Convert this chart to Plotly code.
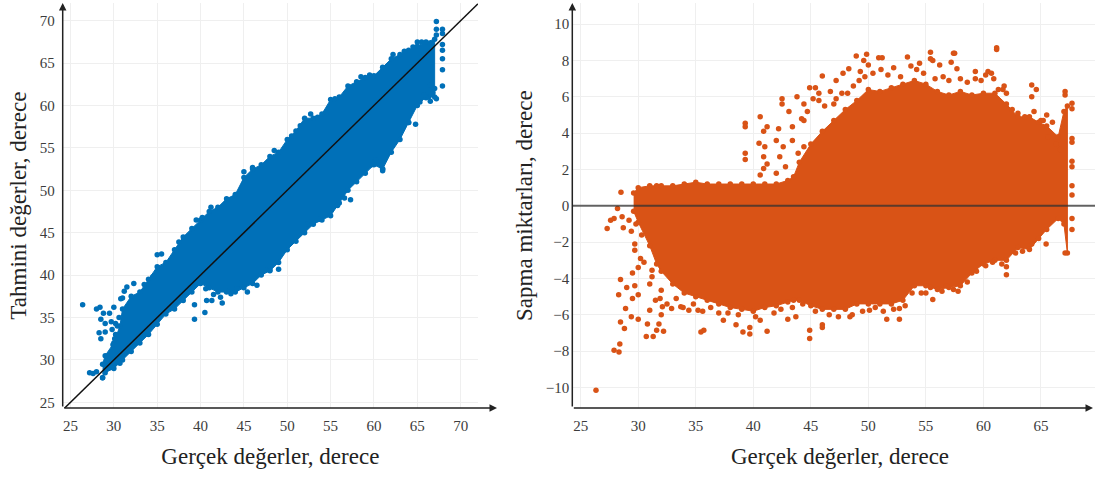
import plotly.graph_objects as go

band_x = [28.7,29,30,30.7,31,32,33,34,35,36,37,38,39,40,41,42,43,44,45,46,47,48,49,50,51,52,53,54,55,56,57,58,59,60,61,62,63,64,65,66,67]
band_low = [27.9,28.5,29,29.6,30,31,32,33,34.2,35.4,36,37,38,39,38.5,38,38,38,38.5,39,40,40.5,41.5,43,44,45,46,46.5,47,48.5,50,51,52,53,52.5,54.5,56,58,60,61,61]
band_up = [29.5,30.5,32,34,36,37.5,38,39.5,41,41.5,43,44.5,45.5,46.5,47.5,48,49,49.5,51.5,52.5,53,54,54.5,56,57,58.5,58.5,59,60.7,61,62.3,62.8,63.3,63.5,64.5,65.5,66,66.5,67,67.5,67.8]
left_out_x = [26.4,28,28.4,28.8,29.5,30,28.5,29,28.3,28.5,29,29.7,30.2,27.2,27.6,28,28.7,39.3,39.3,40.5,40.7,41.3,42.5,43.5,49,48,35.5,35,32.3,31.5,46,45,41.2,48.5,52.7,61,61,57.3,65,67.2,67.2,67.2,67.9,67.9,67.9,67.9,67.9,67.9,67.9,67.2,66.3,62.2,64.8,64,39.5,40.2,44.5,47.5,58.5,59.5,53.5,50.5,51.5,54.5,55.5,37.5,33.5,34.5,29.8,30.2,30.4,30.6,30.1,29.9,31,31.2,30.8,40.6,41.5,42.3,43.1,44.2,45.4,46.5,63.5,64.5,65.5,66.5,67,66.8,66.5,66,65.8,65.3,60.2,59.7,56.6,55.8,52.3,53.7]
left_out_y = [36.5,36,36.2,35.5,35.5,36.2,34.8,34.3,33.2,32.5,33.3,34.5,34.3,28.5,28.4,28.6,27.9,34.8,36.5,35.6,37,37,36.7,37.8,40.7,40.6,42.5,42.4,39,38.6,52.7,52.2,48,54.7,59,52.5,52.3,48.9,67.5,69.9,69,68.3,69,68.5,67.2,66.5,65.5,64.2,62.3,60.8,61,66,57.8,58,46.5,46.8,39,40.6,63.4,63.6,58.6,56.4,57.6,59.2,60.8,43.9,38.9,39.8,33.6,33,34,35,32.5,31.8,37.3,38.1,37.2,38.4,37.7,37.4,38.1,38.4,38,38.8,66.4,66.9,67.5,62.4,62,61.5,60.5,60.9,61.2,60.4,53.6,53,49.1,48.2,46,46.6]
diag = [24.3,72]

dev_x = [29.6,30,31,31.6,32,33,34,35,36,37,38,39,40,41,42,43,43.5,44,45,46,47,48,49,50,51,52,53,54,55,56,57,58,59,60,61,62,63,64,64.8,65.5,66.5,67,67.3]
dev_up = [0.7,1.0,1.1,1.1,1.1,1.1,1.2,1.3,1.2,1.2,1.2,1.2,1.2,1.2,1.2,1.4,1.6,2.4,3.4,4.1,4.7,5.3,5.8,6.4,6.3,6.5,6.7,6.9,6.7,6.3,6.1,6.3,6.1,6.2,6.2,5.6,4.9,4.9,4.6,4.4,3.8,5.2,5.5]
dev_low = [-0.3,-0.9,-2.2,-3.2,-3.6,-4.3,-4.8,-5,-5.2,-5.4,-5.6,-5.7,-5.8,-5.6,-5.5,-5.3,-5.2,-5.2,-5.5,-5.7,-5.7,-5.7,-5.4,-5.4,-5.4,-5.4,-5.2,-4.4,-4.4,-4.6,-4.5,-4.4,-3.7,-3.2,-3,-3,-2.3,-2.4,-1.8,-1.3,-0.7,-1,-2.6]
dev_out_x = [26.33,27.9,28.33,28.4,28.8,28.46,28.9,28.3,28.46,29.4,30,29,29.5,29.7,30,30,29.5,30.2,29.7,29.7,27.3,27.6,27.9,28.2,28.5,28.6,28.7,29.4,29.2,29.8,30.3,30.7,31.3,31.6,32.2,30.8,31,31.8,32,32.1,31.5,32,31,31.2,32.9,33.7,34.4,35.2,35.45,35.7,37.4,38.5,39.1,39.7,39.7,40.6,41.2,44.9,44.9,46,46,43,43.7,48.4,50.1,51.6,52.7,52.7,55.6,55,57.8,62,62,65.45,67.1,67.7,67.7,67.7,67.7,67.7,67.7,67.7,67.7,67.7,67.7,67.1,67.1,65.5,64.6,64.2,64.2,62,61.7,61.15,61.15,59.3,59.3,60.4,60.9,57.4,57.5,57.2,57.7,56.2,55.4,55.4,55.6,54.45,53.4,51.2,50.9,49.85,48.95,49.6,50,48.3,47.8,49.3,46,47.2,44.9,45.4,42.5,42.5,43.8,43.1,39.3,39.3,40.6,39.3,39.3,41.2,40.9,42.2,40.5,41,40.9,41.2,40.9,40.6,42,42.6,42.3,42.8,42,43.4,43.4,44.4,44.4,43.9,44.4,45.7,47,
             44.2,44.7,45.2,45.7,46.2,46.7,47.2,47.7,48.2,48.7,49.2,49.7,50.4,51.1,51.7,52.2,52.8,53.7,54.2,54.8,55.8,56.5,57,58,58.6,59.8,60.2,60.7,61.3,61.8,62.5,63,63.6,64.4,65,66,66.3,66.7,65.6,65.2,
             30.5,31.2,31.9,32.5,33.3,33.9,34.8,35.6,36.3,37,37.8,38.7,40.2,41.8,42.4,43.4,44.3,45.4,46.6,47.4,48.6,49.5,50.6,51.3,52.2,53.2,53.8,54.6,55.4,56.4,56.8,57.4,58.6,59.4,60.2,60.8,61.6,62.8,63.4,64.2]
dev_out_y = [-10.15,-7.95,-8.05,-7.6,-6.75,-6.4,-5.65,-4.9,-4.05,-6.1,-6.25,-4.5,-5.1,-4.4,-4.9,-3.4,-3.7,-2.9,-2.45,-2.1,-1.25,-0.8,-0.7,-0.15,0.75,-0.6,-1.2,-1.4,-0.8,-1,-1.6,-7.2,-7.2,-6.85,-6.9,-6.5,-5.75,-6.5,-6,-5.55,-5.2,-4.65,-4.3,-3.55,-5.65,-5.55,-5.75,-5.75,-6.95,-6.85,-6.3,-6.55,-6.95,-7.05,-6.7,-6.3,-6.9,-6.85,-7.3,-6.55,-6.7,-6.25,-6.1,-6.1,-5.75,-6.25,-6.25,-5.65,-5.15,-4.8,-4.7,-3.8,-3.35,-2.1,-2.6,-1.3,-0.7,0.6,1.1,2.15,2.45,3.5,3.7,5.35,5.65,6.1,6.3,5,6.4,6.65,6,6.2,6.4,8.6,8.7,7.4,7,7.4,7,8.4,8.4,7.9,7.55,7.75,8.45,8.1,8,7.85,8.2,8.15,8.15,8.35,8.25,8,7.75,7.55,7.3,7.4,7.15,6.9,6.5,6.5,5.9,5.6,6,5.2,4.55,4.35,4.9,2.9,2.55,4.35,4.1,4.25,3.45,3.25,2.7,2.3,2.05,1.7,3.6,3.25,2.7,2.15,1.8,4.35,3.6,4.7,5.6,2.9,3.25,5.8,5.6,
             4.8,5.2,5.9,6.2,5.5,6.3,5.9,6.2,6.2,6.6,6.9,7.1,7.3,7.5,7.2,7.6,7.1,7.7,7.5,7.3,7,7.1,6.9,7,6.8,6.9,7.2,7.3,6.4,6.6,5.3,5.1,4.9,5.2,4.7,4.6,3.4,3.1,3.8,4.7,
             -3.1,-3.9,-5.1,-5.4,-5.1,-5.6,-5.4,-5.8,-5.6,-5.9,-5.9,-6,-6.1,-5.9,-5.7,-5.6,-5.4,-5.8,-6,-6.1,-6,-5.8,-5.6,-5.8,-5.7,-5.5,-4.8,-4.8,-4.5,-4.7,-4.4,-4.6,-4.2,-3.6,-3.3,-3.1,-3.2,-2.6,-2.5,-2.1]
zero_x = [24.27,69.7]
zero_y = [0,0]

x_ticks_left = [25,30,35,40,45,50,55,60,65,70]
y_ticks_left = [25,30,35,40,45,50,55,60,65,70]
x_ticks_right = [25,30,35,40,45,50,55,60,65]
y_ticks_right = [-10,-8,-6,-4,-2,0,2,4,6,8,10]

BLUE, ORANGE = "#0070B8", "#D95316"
W, H = 1095, 477
FONT = "Liberation Serif"

def px(v): return v / W
def py(v): return 1 - v / H

fig = go.Figure()

def panel(xa, ya, bx, low, up, ox, oy, colour):
    fig.add_trace(go.Scatter(x=bx + bx[::-1], y=up + low[::-1], mode="lines", fill="toself",
                             fillcolor=colour, line=dict(color=colour, width=1),
                             xaxis=xa, yaxis=ya, showlegend=False, hoverinfo="skip"))
    fig.add_trace(go.Scatter(x=bx + bx + ox, y=up + low + oy, mode="markers",
                             marker=dict(color=colour, size=5.5),
                             xaxis=xa, yaxis=ya, showlegend=False))

panel("x", "y", band_x, band_low, band_up, left_out_x, left_out_y, BLUE)
fig.add_trace(go.Scatter(x=diag, y=diag, mode="lines", line=dict(color="#111111", width=1.5),
                         xaxis="x", yaxis="y", showlegend=False))
panel("x2", "y2", dev_x, dev_low, dev_up, dev_out_x, dev_out_y, ORANGE)
fig.add_trace(go.Scatter(x=zero_x, y=zero_y, mode="lines", line=dict(color="rgba(50,50,50,0.75)", width=2),
                         xaxis="x2", yaxis="y2", showlegend=False))

tick = dict(family=FONT, size=15, color="#3c3c3c")
title = dict(family=FONT, size=23, color="#222222")
grid = "#efefef"
common = dict(showgrid=True, gridcolor=grid, gridwidth=1.2, zeroline=False, showline=False,
              ticks="", tickfont=tick, automargin=False)

fig.update_layout(
    width=W, height=H, margin=dict(l=0, r=0, t=0, b=0), paper_bgcolor="white", plot_bgcolor="white",
    showlegend=False,
    xaxis=dict(common, domain=[px(62.7), px(478)], range=[24.1, 72], tickvals=x_ticks_left, ticklabelstandoff=7,
               title=dict(text="Gerçek değerler, derece", font=title, standoff=14), anchor="y"),
    yaxis=dict(common, domain=[py(408), py(3.3)], range=[24.33, 72.05], tickvals=y_ticks_left, ticklabelstandoff=7,
               title=dict(text="Tahmini değerler, derece", font=title, standoff=6), anchor="x"),
    xaxis2=dict(common, domain=[px(572.3), px(1095)], range=[24.27, 69.7], tickvals=x_ticks_right, ticklabelstandoff=7, anchor="y2"),
    yaxis2=dict(common, domain=[py(408), py(3.3)], range=[-11.13, 11.15], tickvals=y_ticks_right, ticklabelstandoff=2,
                title=dict(text="Sapma miktarları, derece", font=title, standoff=6), anchor="x2"),
)

def arrow(x0, y0, x1, y1):
    fig.add_annotation(xref="paper", yref="paper", axref="pixel", ayref="pixel",
                       x=px(x1), y=py(y1), ax=x0 - x1, ay=y0 - y1, text="", showarrow=True,
                       arrowhead=2, arrowsize=1, arrowwidth=1.5, arrowcolor="#222222")

arrow(62.7, 408, 62.7, 3)
arrow(62.7, 408, 497, 408)
arrow(572.3, 408, 572.3, 3)
arrow(572.3, 408, 1093, 408)

fig.add_annotation(xref="paper", yref="paper", x=px(840), y=py(456), xanchor="center", yanchor="middle",
                   text="Gerçek değerler, derece", showarrow=False, font=title)

fig.write_html("out.html", config={"displayModeBar": False},
               post_script="document.body.style.margin='0';window.dispatchEvent(new Event('resize'));")
